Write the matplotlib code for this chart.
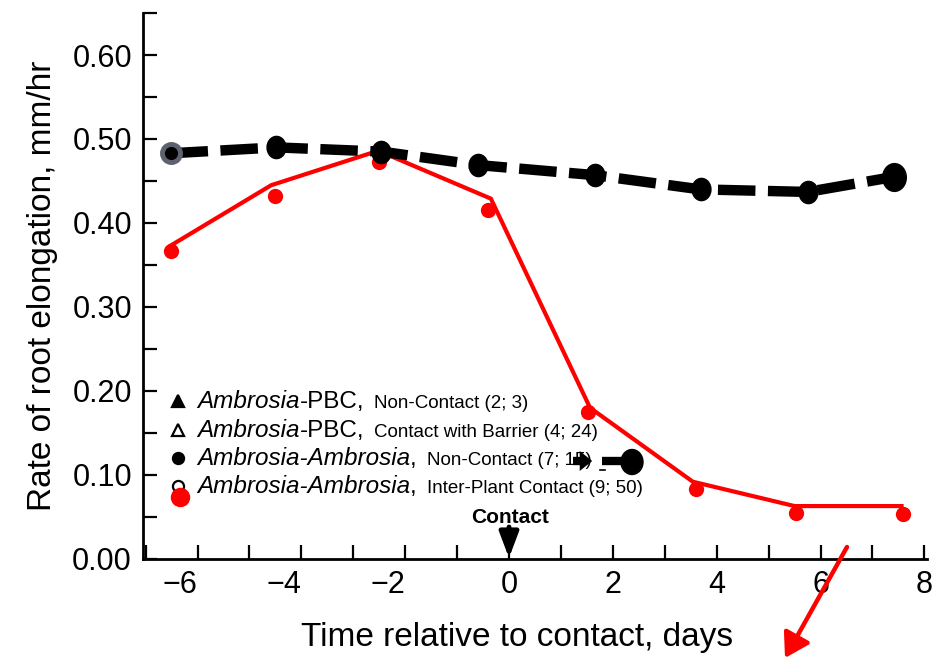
import matplotlib
matplotlib.use("Agg")
import matplotlib.pyplot as plt
from matplotlib.patches import FancyArrowPatch, Ellipse
from matplotlib.ticker import MultipleLocator
from matplotlib.markers import MarkerStyle
from matplotlib.transforms import Affine2D

plt.rcParams['font.family'] = ['Liberation Sans', 'DejaVu Sans']

# ---------------- data ----------------
# Ambrosia-Ambrosia, Non-Contact (black dashed line with markers)
days_nc = [-6.52, -4.48, -2.46, -0.60, 1.65, 3.69, 5.75, 7.42]
rate_nc = [0.483, 0.490, 0.485, 0.469, 0.457, 0.440, 0.437, 0.455]

# Ambrosia-Ambrosia, Inter-Plant Contact: line vertices (red)
days_ct_line = [-6.52, -4.58, -2.52, -0.35, 1.56, 3.54, 5.50, 7.56]
rate_ct_line = [0.373, 0.445, 0.486, 0.429, 0.180, 0.092, 0.063, 0.063]
# Ambrosia-Ambrosia, Inter-Plant Contact: plotted points (red)
days_ct_pts = [-6.52, -4.50, -2.50, -0.40, 1.52, 3.60, 5.52, 7.58]
rate_ct_pts = [0.367, 0.432, 0.473, 0.415, 0.175, 0.083, 0.055, 0.054]

xticks = [-6, -4, -2, 0, 2, 4, 6, 8]
xtick_labels = ['\u22126', '\u22124', '\u22122', '0', '2', '4', '6', '8']
yticks = [0.0, 0.1, 0.2, 0.3, 0.4, 0.5, 0.6]

legend_rows = [
    ('^', 'black', [('Ambrosia', 'italic'), ('-PBC,', 'normal')], 'Non-Contact (2; 3)'),
    ('^', 'none', [('Ambrosia', 'italic'), ('-PBC,', 'normal')], 'Contact with Barrier (4; 24)'),
    ('o', 'black', [('Ambrosia-Ambrosia', 'italic'), (',', 'normal')], 'Non-Contact (7; 15)'),
    ('o', 'none', [('Ambrosia-Ambrosia', 'italic'), (',', 'normal')], 'Inter-Plant Contact (9; 50)'),
]

xlabel = 'Time relative to contact, days'
ylabel = 'Rate of root elongation, mm/hr'

# ---------------- figure ----------------
W, H = 934, 660
fig = plt.figure(figsize=(W / 100, H / 100), dpi=100)
fig.patch.set_facecolor('white')


def fx(px):
    return px / W


def fy(py):
    return 1 - py / H


ax = fig.add_axes([fx(143), fy(559), (927 - 143) / W, (559 - 13) / H])
ax.set_xlim(-7.05, 8.05)
ax.set_ylim(0, 0.65)

for s in ['top', 'right']:
    ax.spines[s].set_visible(False)
for s in ['left', 'bottom']:
    ax.spines[s].set_linewidth(2)

ax.set_xticks(xticks)
ax.set_xticklabels(xtick_labels)
ax.xaxis.set_minor_locator(MultipleLocator(1))
ax.set_yticks(yticks)
ax.set_yticklabels(['%.2f' % v for v in yticks])
ax.yaxis.set_minor_locator(MultipleLocator(0.05))
ax.tick_params(which='both', direction='in', length=10, width=1.6, labelsize=22)
ax.tick_params(axis='y', pad=8)
ax.tick_params(axis='x', pad=8)
for lab in ax.get_xticklabels():
    if lab.get_text().startswith('\u2212'):
        lab.set_ha('right')

ax.set_xlabel(xlabel, fontsize=24, labelpad=10)
ax.xaxis.set_label_coords((517 - 143) / 784, -0.115)
ax.set_ylabel(ylabel, fontsize=24, labelpad=10)

# red line (contact)
ax.plot(days_ct_line, rate_ct_line, color='#ff0000', lw=3, zorder=3, solid_joinstyle='miter')
ax.plot(days_ct_pts, rate_ct_pts, 'o', color='#ff0000', ms=11, mec='none', zorder=3)

# black dashed line (non-contact)
oval = MarkerStyle('o', transform=Affine2D().scale(0.85, 1.0))
ax.plot(days_nc, rate_nc, color='black', lw=7.5, ls=(0, (3.6, 1.2)), dash_capstyle='butt', zorder=4)
ax.plot(days_nc[1:-1], rate_nc[1:-1], ls='none', marker=oval, color='black', ms=16, zorder=5)
ax.plot(days_nc[-1:], rate_nc[-1:], ls='none', marker=oval, color='black', ms=20, zorder=5)
ax.plot(days_nc[:1], rate_nc[:1], 'o', mfc='black', mec='#5d6270', mew=3.5, ms=13, zorder=6)

# ---------------- legend (text block inside plot) ----------------
fig.canvas.draw()
renderer = fig.canvas.get_renderer()
baselines = [408, 437, 465, 493]
mark_y = [401, 430, 458, 486]
for (mk, fc, big, small), yb, ym in zip(legend_rows, baselines, mark_y):
    fig.lines.append(plt.Line2D([fx(178)], [fy(ym)], marker=mk, ms=9 if mk == '^' else 8,
                                mfc=fc, mec='black', mew=1.6, color='black',
                                transform=fig.transFigure))
    x = 197
    for s, style in big:
        t = fig.text(fx(x), fy(yb), s, fontsize=17.5, fontstyle=style, ha='left', va='baseline')
        x = t.get_window_extent(renderer=renderer).x1
    x += 10
    fig.text(fx(x), fy(yb), small, fontsize=13.5, ha='left', va='baseline')

# scribble over the "15" and sample line for non-contact series
fig.lines.append(plt.Line2D([fx(573), fx(586)], [fy(461), fy(461)], color='black', lw=6,
                            solid_capstyle='butt', transform=fig.transFigure))
fig.patches.append(FancyArrowPatch((fx(583), fy(461)), (fx(595), fy(461)), transform=fig.transFigure,
                                   arrowstyle='-|>,head_length=0.5,head_width=0.4', mutation_scale=18,
                                   color='black', lw=0))
fig.lines.append(plt.Line2D([fx(602), fx(626)], [fy(461), fy(461)], color='black', lw=6,
                            solid_capstyle='butt', transform=fig.transFigure))
fig.patches.append(Ellipse((fx(632), fy(462)), 22 / W, 25 / H, transform=fig.transFigure,
                           color='black'))
fig.lines.append(plt.Line2D([fx(600), fx(605)], [fy(470), fy(470)], color='black', lw=1.2,
                            transform=fig.transFigure))

# red dot over the open-circle legend marker
fig.lines.append(plt.Line2D([fx(180)], [fy(497)], marker='o', ms=14, mfc='#ff0000', mec='none',
                            transform=fig.transFigure))

# "Contact" marker
fig.text(fx(510), fy(523), 'Contact', fontsize=15, fontweight='bold', ha='center', va='baseline')
fig.patches.append(FancyArrowPatch((fx(509), fy(527)), (fx(509), fy(558)), transform=fig.transFigure,
                                   arrowstyle='-|>,head_length=0.85,head_width=0.32', mutation_scale=18,
                                   color='black', lw=3.5, shrinkA=0, shrinkB=0))

# red annotation arrow
fig.patches.append(FancyArrowPatch((fx(847), fy(547)), (fx(785), fy(658)), transform=fig.transFigure,
                                   arrowstyle='-|>,head_length=0.9,head_width=0.55', mutation_scale=16,
                                   color='#ff0000', lw=3.2, shrinkA=0, shrinkB=0))

fig.savefig('out.png', dpi=100)
